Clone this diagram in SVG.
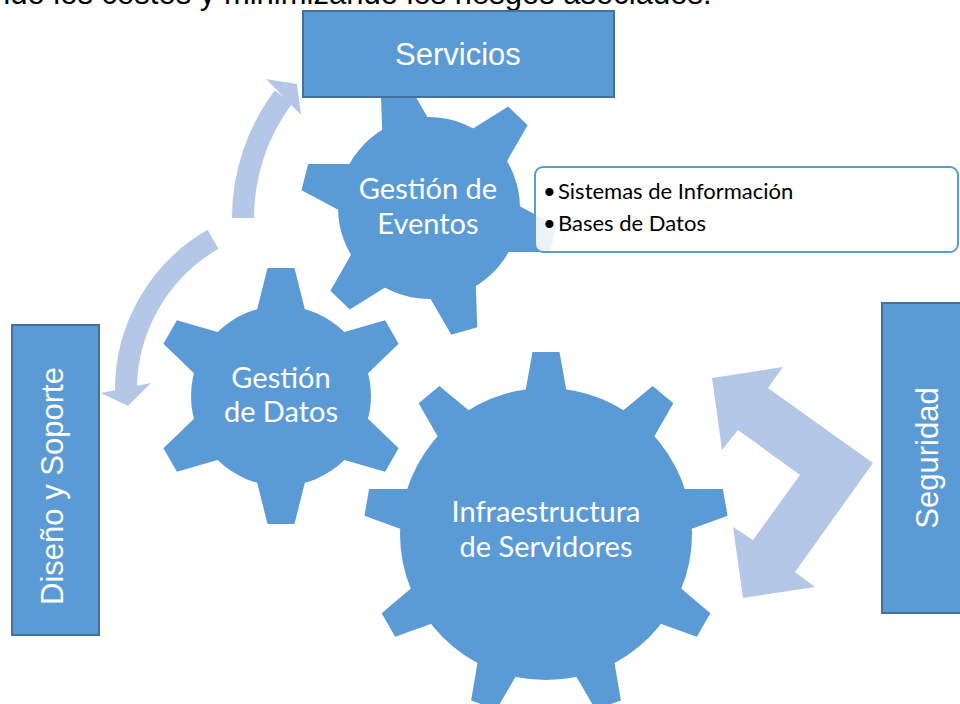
<svg xmlns="http://www.w3.org/2000/svg" width="960" height="704" viewBox="0 0 960 704">
  <style>
    .box { fill: #5B9BD5; stroke: #41719C; stroke-width: 2; }
    .gear { fill: #5B9BD5; }
    .arc { fill: none; stroke: #B4C7E7; stroke-width: 22; }
    .ahead { fill: #B4C7E7; }
    .boxtxt { font-family: "Liberation Sans", Arial, sans-serif; font-size: 31px; fill: #FFFFFF; text-anchor: middle; }
    .geartxt { font-family: Lato, "Open Sans", sans-serif; font-size: 29px; fill: #FFFFFF; text-anchor: middle; }
    .calltxt { font-family: Lato, "Open Sans", sans-serif; font-size: 22px; fill: #000000; }
    .top { font-family: "Liberation Sans", Arial, sans-serif; font-size: 31px; fill: #000000; }
  </style>
  <defs>
    <polygon id="toothS" points="-25.5,-80 25.5,-80 13.5,-128 -13.5,-128"/>
    <polygon id="toothL" points="-21.8,-136 21.8,-136 13.5,-182 -13.5,-182"/>
  </defs>

  <text class="top" x="-7" y="4">ndo los costos y minimizando los riesgos asociados.</text>

  <g id="connectors">
    <path class="arc" d="M243,218 A201,201 0 0 1 283.5,97"/>
    <polygon class="ahead" points="266,79 297,84 301,115"/>
    <path class="arc" d="M213,239.3 A174,174 0 0 0 126,393"/>
    <polygon class="ahead" points="101,393 151,383 128,406"/>
    <polygon class="ahead" points="712,378 783,367 768,388 873,463 795,572 815,587 743,598 733,527 753,540 800,475 738,430 722,450"/>
  </g>

  <g id="gear-eventos" class="gear">
    <g transform="translate(429,208)">
      <circle r="91"/>
      <use href="#toothS" transform="rotate(44)"/>
      <use href="#toothS" transform="rotate(104)"/>
      <use href="#toothS" transform="rotate(164)"/>
      <use href="#toothS" transform="rotate(224)"/>
      <use href="#toothS" transform="rotate(284)"/>
      <use href="#toothS" transform="rotate(344)"/>
    </g>
    <text class="geartxt" x="428" y="199">Gestión de</text>
    <text class="geartxt" x="428" y="234">Eventos</text>
  </g>

  <g id="gear-datos" class="gear">
    <g transform="translate(281,396)">
      <circle r="90"/>
      <use href="#toothS" transform="rotate(0)"/>
      <use href="#toothS" transform="rotate(60)"/>
      <use href="#toothS" transform="rotate(120)"/>
      <use href="#toothS" transform="rotate(180)"/>
      <use href="#toothS" transform="rotate(240)"/>
      <use href="#toothS" transform="rotate(300)"/>
    </g>
    <text class="geartxt" x="281" y="388">Gestión</text>
    <text class="geartxt" x="281" y="422">de Datos</text>
  </g>

  <g id="gear-infra" class="gear">
    <g transform="translate(546,534)">
      <circle r="146"/>
      <use href="#toothL" transform="rotate(0)"/>
      <use href="#toothL" transform="rotate(40)"/>
      <use href="#toothL" transform="rotate(80)"/>
      <use href="#toothL" transform="rotate(120)"/>
      <use href="#toothL" transform="rotate(160)"/>
      <use href="#toothL" transform="rotate(200)"/>
      <use href="#toothL" transform="rotate(240)"/>
      <use href="#toothL" transform="rotate(280)"/>
      <use href="#toothL" transform="rotate(320)"/>
    </g>
    <text class="geartxt" x="546" y="522">Infraestructura</text>
    <text class="geartxt" x="546" y="557">de Servidores</text>
  </g>

  <g id="servicios">
    <rect class="box" x="303" y="11" width="311" height="86"/>
    <text class="boxtxt" x="458" y="65">Servicios</text>
  </g>

  <g id="diseno">
    <rect class="box" x="12" y="325" width="87" height="310"/>
    <text class="boxtxt" transform="translate(63,486) rotate(-90)">Diseño y Soporte</text>
  </g>

  <g id="seguridad">
    <rect class="box" x="882" y="303" width="90" height="310"/>
    <text class="boxtxt" transform="translate(938,458) rotate(-90)">Seguridad</text>
  </g>

  <g id="callout">
    <rect x="535" y="167" width="423" height="85" rx="8" fill="#FFFFFF" fill-opacity="0.88" stroke="#5B9BD5" stroke-width="2"/>
    <text class="calltxt" x="543" y="199">•</text>
    <text class="calltxt" x="558" y="199">Sistemas de Información</text>
    <text class="calltxt" x="543" y="231">•</text>
    <text class="calltxt" x="558" y="231">Bases de Datos</text>
  </g>
</svg>
